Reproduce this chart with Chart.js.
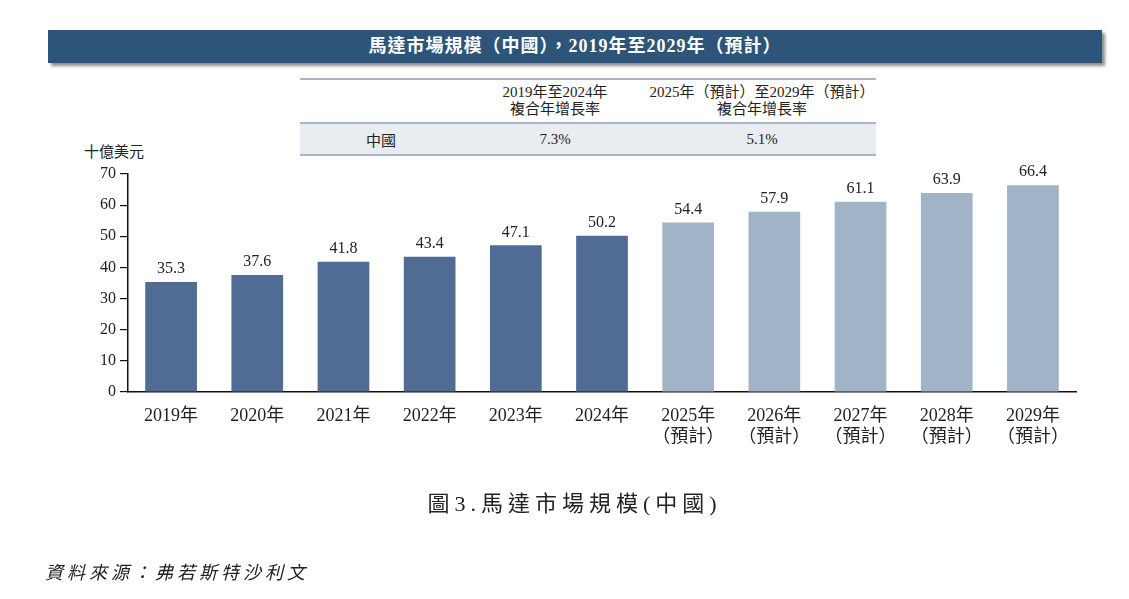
<!DOCTYPE html>
<html>
<head>
<meta charset="utf-8">
<script src="https://cdn.jsdelivr.net/npm/chart.js@4"></script>
<style>
  body { margin: 0; width: 1129px; height: 599px; background: #fff; position: relative; overflow: hidden;
         font-family: "Liberation Serif", "Noto Sans CJK TC", serif; color: #222; }
  .title-bar { position: absolute; left: 48px; top: 30px; width: 1054px; height: 33px; background: #2d5579;
               box-shadow: 3px 3px 3px rgba(0,0,0,0.45); color: #fff; font-weight: bold; font-size: 18px;
               letter-spacing: 1px; line-height: 33px; text-align: center; }
  .cagr { position: absolute; left: 300px; top: 78px; width: 576px; border-collapse: collapse; font-size: 15px;
          table-layout: fixed; white-space: nowrap; }
  .cagr th, .cagr td { font-weight: normal; text-align: center; padding: 0; overflow: visible; }
  .cagr thead tr { border-top: 2px solid #a7b6c8; border-bottom: 2px solid #a7b6c8; }
  .cagr thead th { height: 42px; line-height: 17px; }
  .cagr tbody tr { background: #e9ecf1; border-bottom: 2px solid #a7b6c8; }
  .cagr tbody td { height: 30px; }
  .unit { position: absolute; left: 84px; top: 140px; font-size: 15px; }
  .caption { position: absolute; left: 0; width: 1149px; top: 485px; text-align: center; font-size: 22px; letter-spacing: 5px; }
  .source { position: absolute; left: 45px; top: 558px; font-size: 18px; font-style: italic; letter-spacing: 4px; }
  #chart { position: absolute; left: 0; top: 0; }
</style>
</head>
<body>
<div class="title-bar">馬達市場規模（中國），2019年至2029年（預計）</div>
<table class="cagr">
  <colgroup><col style="width:162px"><col style="width:186px"><col style="width:228px"></colgroup>
  <thead>
    <tr><th></th><th>2019年至2024年<br>複合年增長率</th><th>2025年（預計）至2029年（預計）<br>複合年增長率</th></tr>
  </thead>
  <tbody>
    <tr><td>中國</td><td>7.3%</td><td>5.1%</td></tr>
  </tbody>
</table>
<div class="unit">十億美元</div>
<canvas id="chart" width="1129" height="599"></canvas>
<div class="caption">圖3.馬達市場規模(中國)</div>
<div class="source">資料來源：弗若斯特沙利文</div>
<script>
// Data
const years = ['2019年', '2020年', '2021年', '2022年', '2023年', '2024年',
               '2025年', '2026年', '2027年', '2028年', '2029年'];
const isForecast = [false, false, false, false, false, false, true, true, true, true, true];
const marketSize = [35.3, 37.6, 41.8, 43.4, 47.1, 50.2, 54.4, 57.9, 61.1, 63.9, 66.4];
const yTicks = [0, 10, 20, 30, 40, 50, 60, 70];

const ACTUAL_COLOR = '#506c95';
const FORECAST_COLOR = '#a0b3c7';
const FONT = '"Liberation Serif", "Noto Sans CJK TC", serif';

const labels = years.map((y, i) => isForecast[i] ? [y, '（預計）'] : y);

// Draw value labels above each bar
const valueLabels = {
  id: 'valueLabels',
  afterDatasetsDraw(chart) {
    const ctx = chart.ctx;
    const meta = chart.getDatasetMeta(0);
    ctx.save();
    ctx.font = '16px ' + FONT;
    ctx.fillStyle = '#222';
    ctx.textAlign = 'center';
    ctx.textBaseline = 'bottom';
    meta.data.forEach((bar, i) => {
      ctx.fillText(marketSize[i].toFixed(1), bar.x, bar.y - 5);
    });
    ctx.restore();
  }
};

new Chart(document.getElementById('chart'), {
  type: 'bar',
  data: {
    labels,
    datasets: [{
      data: marketSize,
      backgroundColor: isForecast.map(f => f ? FORECAST_COLOR : ACTUAL_COLOR),
      barPercentage: 0.6,
      categoryPercentage: 1.0
    }]
  },
  options: {
    responsive: false,
    animation: false,
    layout: { padding: { left: 0, right: 53, top: 174, bottom: 147 } },
    plugins: { legend: { display: false }, tooltip: { enabled: false } },
    scales: {
      x: {
        grid: { display: false },
        border: { color: '#111', width: 1.5 },
        ticks: { color: '#222', font: { family: FONT, size: 18, lineHeight: 1.15 }, padding: 6, maxRotation: 0, autoSkip: false },
        afterFit: (s) => { s.height = 60; }
      },
      y: {
        min: 0,
        max: 70,
        afterBuildTicks: (s) => { s.ticks = yTicks.map(v => ({ value: v })); },
        grid: { drawOnChartArea: false, drawTicks: true, tickLength: 8, color: '#111', lineWidth: 1.2 },
        border: { color: '#111', width: 1.5 },
        ticks: { color: '#222', font: { family: FONT, size: 16 }, padding: 4 },
        afterFit: (s) => { s.width = 128; }
      }
    }
  },
  plugins: [valueLabels]
});
</script>
</body>
</html>
